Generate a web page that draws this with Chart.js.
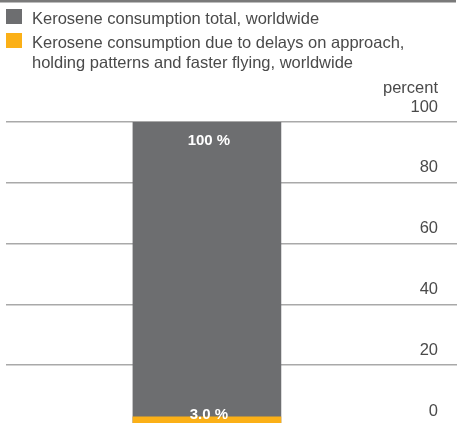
<!DOCTYPE html>
<html>
<head>
<meta charset="utf-8">
<script src="https://cdn.jsdelivr.net/npm/chart.js@4/dist/chart.umd.min.js"></script>
<style>
  html, body { margin: 0; padding: 0; background: #fff; overflow: hidden; }
  #wrap { width: 458px; height: 423px; overflow: hidden; position: relative; }
  canvas { display: block; }
</style>
</head>
<body>
<div id="wrap"><canvas id="c" width="458" height="426"></canvas></div>
<script>
// ---- data ----
const categories = ['Worldwide'];
const seriesLabels = [
  ['Kerosene consumption total, worldwide'],
  ['Kerosene consumption due to delays on approach,', 'holding patterns and faster flying, worldwide']
];
const totalValues = [100];
const delayValues = [3.0];
const valueLabels = [['100 %'], ['3.0 %']];
const yTicks = [0, 20, 40, 60, 80, 100];
const axisTitle = 'percent';

const GRAY = '#6d6e70';
const ORANGE = '#fbb017';
const TEXT = '#4a4a4a';
const FONT = '"Liberation Sans", Arial, Helvetica, sans-serif';

const overlay = {
  id: 'overlay',
  afterDraw(chart) {
    const ctx = chart.ctx;
    ctx.save();
    // top rule
    ctx.fillStyle = '#7a7a7a';
    ctx.fillRect(0, 0, 456, 2.5);
    // legend
    const colors = [GRAY, ORANGE];
    const boxTops = [9, 33];
    ctx.font = '16.5px ' + FONT;
    ctx.textAlign = 'left';
    ctx.textBaseline = 'alphabetic';
    seriesLabels.forEach((lines, i) => {
      ctx.fillStyle = colors[i];
      ctx.fillRect(6, boxTops[i], 16, 15);
      ctx.fillStyle = TEXT;
      lines.forEach((ln, j) => {
        ctx.fillText(ln, 32, boxTops[i] + 14.5 + j * 20);
      });
    });
    // axis title
    ctx.textAlign = 'right';
    ctx.fillText(axisTitle, 438, 93);
    // value labels
    ctx.fillStyle = '#ffffff';
    ctx.font = 'bold 15px ' + FONT;
    ctx.textAlign = 'center';
    ctx.textBaseline = 'middle';
    const m0 = chart.getDatasetMeta(0);
    const m1 = chart.getDatasetMeta(1);
    m0.data.forEach((bar, k) => {
      ctx.fillText(valueLabels[0][k], bar.x + 2, bar.y + 19);
    });
    m1.data.forEach((bar, k) => {
      ctx.fillText(valueLabels[1][k], bar.x + 2, bar.y - 2.5);
    });
    ctx.restore();
  }
};

new Chart(document.getElementById('c'), {
  type: 'bar',
  data: {
    datasets: [
      {
        label: seriesLabels[0].join(' '),
        data: categories.map((c, i) => ({ x: i, y: totalValues[i] })),
        backgroundColor: GRAY,
        barThickness: 148,
        order: 2
      },
      {
        label: seriesLabels[1].join(' '),
        data: categories.map((c, i) => ({ x: i, y: delayValues[i] })),
        backgroundColor: ORANGE,
        barThickness: 148,
        order: 1
      }
    ]
  },
  options: {
    responsive: false,
    animation: false,
    devicePixelRatio: 1,
    layout: { padding: { top: 122, left: 6, right: 1, bottom: 0 } },
    plugins: { legend: { display: false }, tooltip: { enabled: false } },
    scales: {
      x: {
        type: 'linear',
        min: -0.4346,
        max: 0.5654,
        stacked: true,
        display: false
      },
      y: {
        position: 'right',
        stacked: false,
        min: 0,
        max: 100,
        afterBuildTicks: (scale) => { scale.ticks = yTicks.map(v => ({ value: v })); },
        afterFit: (scale) => {
          scale.width = 0;
          scale.paddingTop = 0;
          scale.paddingBottom = 0;
          scale.paddingLeft = 0;
          scale.paddingRight = 0;
        },
        border: { display: false },
        grid: { color: '#a9a9a9', lineWidth: 1.5, drawTicks: false },
        ticks: {
          mirror: true,
          padding: -19,
          labelOffset: -15,
          color: TEXT,
          font: { family: FONT, size: 16.5 }
        }
      }
    }
  },
  plugins: [overlay]
});
</script>
</body>
</html>
